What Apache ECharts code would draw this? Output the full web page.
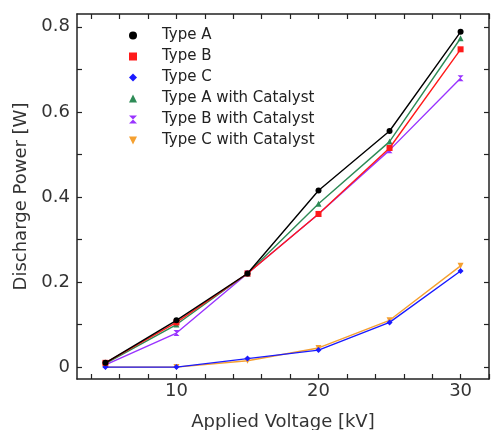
<!DOCTYPE html>
<html><head><meta charset="utf-8">
<script src="https://cdn.jsdelivr.net/npm/echarts@6/dist/echarts.min.js"></script>
<style>html,body{margin:0;padding:0;background:#fff}#c{width:491px;height:430px}</style>
</head><body><div id="c"></div>
<script>
const voltages = [5, 10, 15, 20, 25, 30];
const typeA = [0.01, 0.11, 0.22, 0.415, 0.555, 0.788];
const typeB = [0.01, 0.105, 0.22, 0.36, 0.515, 0.747];
const typeC = [0.0, 0.0, 0.02, 0.04, 0.105, 0.226];
const typeACat = [0.008, 0.10, 0.22, 0.384, 0.53, 0.773];
const typeBCat = [0.005, 0.08, 0.22, 0.36, 0.51, 0.679];
const typeCCat = [0.0, 0.0, 0.015, 0.045, 0.11, 0.238];
const seriesNames = ['Type A', 'Type B', 'Type C', 'Type A with Catalyst', 'Type B with Catalyst', 'Type C with Catalyst'];
const xTicks = [4, 6, 8, 10, 12, 14, 16, 18, 20, 22, 24, 26, 28, 30, 32];
const xLabels = [10, 20, 30];
const yTicks = [0, 0.1, 0.2, 0.3, 0.4, 0.5, 0.6, 0.7, 0.8];
const yLabels = [0, 0.2, 0.4, 0.6, 0.8];

const colors = ['#000000', '#ff1a1a', '#1a1aff', '#2e8b57', '#9933ff', '#f5a030'];
const symbols = ['circle', 'rect', 'diamond', 'triangle',
  'path://M0,0 L10,0 L5,5 L10,10 L0,10 L5,5 Z',
  'path://M0,0 L10,0 L5,10 Z'];
const allData = [typeA, typeB, typeC, typeACat, typeBCat, typeCCat];
const font = '"DejaVu Sans", "Liberation Sans", Arial, sans-serif';

const axisLine = {show: true, onZero: false, lineStyle: {color: '#222', width: 1.5}};
function xAx(pos, showLabels) {
  return {
    type: 'value', min: 3, max: 32, position: pos,
    axisLine: axisLine,
    splitLine: {show: false},
    axisTick: {show: true, inside: true, length: 5, customValues: xTicks, lineStyle: {color: '#222', width: 1.2}},
    axisLabel: {show: showLabels, customValues: xLabels, color: '#333', fontSize: 18, fontFamily: font, margin: 3},
    name: showLabels ? 'Applied Voltage [kV]' : '',
    nameLocation: 'middle', nameGap: 34,
    nameTextStyle: {color: '#333', fontSize: 18, fontFamily: font}
  };
}
function yAx(pos, showLabels) {
  return {
    type: 'value', min: -0.028, max: 0.83, position: pos,
    axisLine: axisLine,
    splitLine: {show: false},
    axisTick: {show: true, inside: true, length: 5, customValues: yTicks, lineStyle: {color: '#222', width: 1.2}},
    axisLabel: {show: showLabels, customValues: yLabels, color: '#333', fontSize: 18, fontFamily: font, margin: 7,
      formatter: v => (Math.abs(v) < 1e-9 ? '0' : v.toFixed(1))},
    name: showLabels ? 'Discharge Power [W]' : '',
    nameLocation: 'middle', nameGap: 47,
    nameTextStyle: {color: '#333', fontSize: 18, fontFamily: font}
  };
}

const series = seriesNames.map((n, i) => ({
  name: n, type: 'line',
  data: voltages.map((v, j) => [v, allData[i][j]]),
  symbol: symbols[i], symbolSize: 6,
  showSymbol: true,
  itemStyle: {color: colors[i]},
  lineStyle: {color: colors[i], width: 1.4},
  emphasis: {disabled: true},
  animation: false,
  z: 10 - i
}));

const chart = echarts.init(document.getElementById('c'), null, {renderer: 'canvas'});
chart.setOption({
  animation: false,
  grid: {left: 77, right: 2, top: 14, bottom: 51, containLabel: false, outerBoundsMode: 'none'},
  xAxis: [xAx('bottom', true), xAx('top', false)],
  yAxis: [yAx('left', true), yAx('right', false)],
  legend: {
    left: 124, top: 22, orient: 'vertical',
    itemWidth: 8, itemHeight: 8, itemGap: 4,
    data: seriesNames.map((n, i) => ({name: n, icon: symbols[i]})),
    textStyle: {color: '#222', fontSize: 15, lineHeight: 17, fontFamily: font, padding: [0, 0, 0, 20]}
  },
  series: series
});
</script></body></html>
